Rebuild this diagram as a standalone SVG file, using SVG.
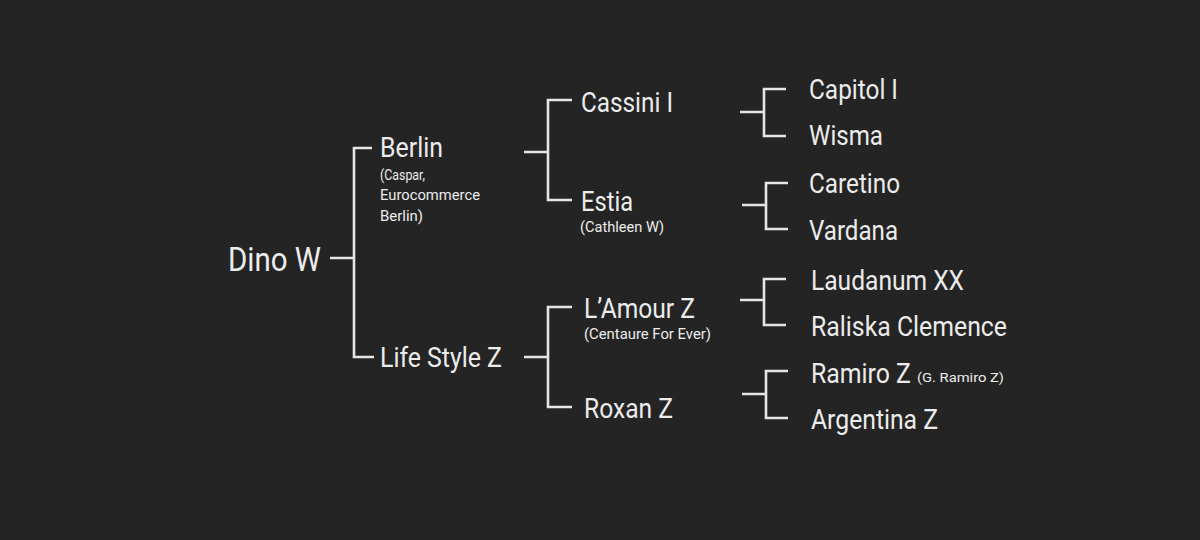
<svg xmlns="http://www.w3.org/2000/svg" width="1200" height="540" viewBox="0 0 1200 540">
<style>
text{font-family:Roboto,"Liberation Sans",sans-serif;fill:#ececec}
.l{font-size:28px}.x{font-size:33px}.s{font-size:14.5px}.t{font-size:12.5px}
#conn path{fill:none;stroke:#e6e6e6;stroke-width:2.6}
</style>
<rect width="1200" height="540" fill="#242424"/>
<g id="conn">
<path d="M330 258H354M372 148H354V357H374"/>
<path d="M524 152H548M572 100H548V200H572"/>
<path d="M524 357H548M572 307H548V407H572"/>
<path d="M740 112H764M786 89H764V136H786"/>
<path d="M742 205H766M788 183H766V229H788"/>
<path d="M740 300H764M786 279H764V325H786"/>
<path d="M742 394H766M788 371H766V418H788"/>
</g>
<g id="dino"><text class="x" x="228" y="271" textLength="93" lengthAdjust="spacingAndGlyphs">Dino W</text></g>
<g id="berlin"><text class="l" x="380" y="157" textLength="63" lengthAdjust="spacingAndGlyphs">Berlin</text>
<text class="s" x="380" y="180" textLength="45" lengthAdjust="spacingAndGlyphs">(Caspar,</text>
<text class="s" x="380" y="200" textLength="100" lengthAdjust="spacingAndGlyphs">Eurocommerce</text>
<text class="s" x="380" y="221" textLength="43" lengthAdjust="spacingAndGlyphs">Berlin)</text></g>
<g id="lifestyle"><text class="l" x="380" y="367" textLength="122" lengthAdjust="spacingAndGlyphs">Life Style Z</text></g>
<g id="cassini"><text class="l" x="581" y="112" textLength="92" lengthAdjust="spacingAndGlyphs">Cassini I</text></g>
<g id="estia"><text class="l" x="581" y="211" textLength="52" lengthAdjust="spacingAndGlyphs">Estia</text>
<text class="s" x="580" y="232" textLength="84" lengthAdjust="spacingAndGlyphs">(Cathleen W)</text></g>
<g id="lamour"><text class="l" x="584" y="318" textLength="111" lengthAdjust="spacingAndGlyphs">L’Amour Z</text>
<text class="s" x="584" y="339" textLength="127" lengthAdjust="spacingAndGlyphs">(Centaure For Ever)</text></g>
<g id="roxan"><text class="l" x="584" y="418" textLength="89" lengthAdjust="spacingAndGlyphs">Roxan Z</text></g>
<g id="capitol"><text class="l" x="809" y="99" textLength="89" lengthAdjust="spacingAndGlyphs">Capitol I</text></g>
<g id="wisma"><text class="l" x="809" y="145" textLength="74" lengthAdjust="spacingAndGlyphs">Wisma</text></g>
<g id="caretino"><text class="l" x="809" y="193" textLength="91" lengthAdjust="spacingAndGlyphs">Caretino</text></g>
<g id="vardana"><text class="l" x="809" y="240" textLength="89" lengthAdjust="spacingAndGlyphs">Vardana</text></g>
<g id="laudanum"><text class="l" x="811" y="290" textLength="153" lengthAdjust="spacingAndGlyphs">Laudanum XX</text></g>
<g id="raliska"><text class="l" x="811" y="336" textLength="196" lengthAdjust="spacingAndGlyphs">Raliska Clemence</text></g>
<g id="ramiro"><text class="l" x="811" y="383" textLength="100" lengthAdjust="spacingAndGlyphs">Ramiro Z</text>
<text class="t" x="917" y="382" textLength="87" lengthAdjust="spacingAndGlyphs">(G. Ramiro Z)</text></g>
<g id="argentina"><text class="l" x="811" y="429" textLength="127" lengthAdjust="spacingAndGlyphs">Argentina Z</text></g>
</svg>
